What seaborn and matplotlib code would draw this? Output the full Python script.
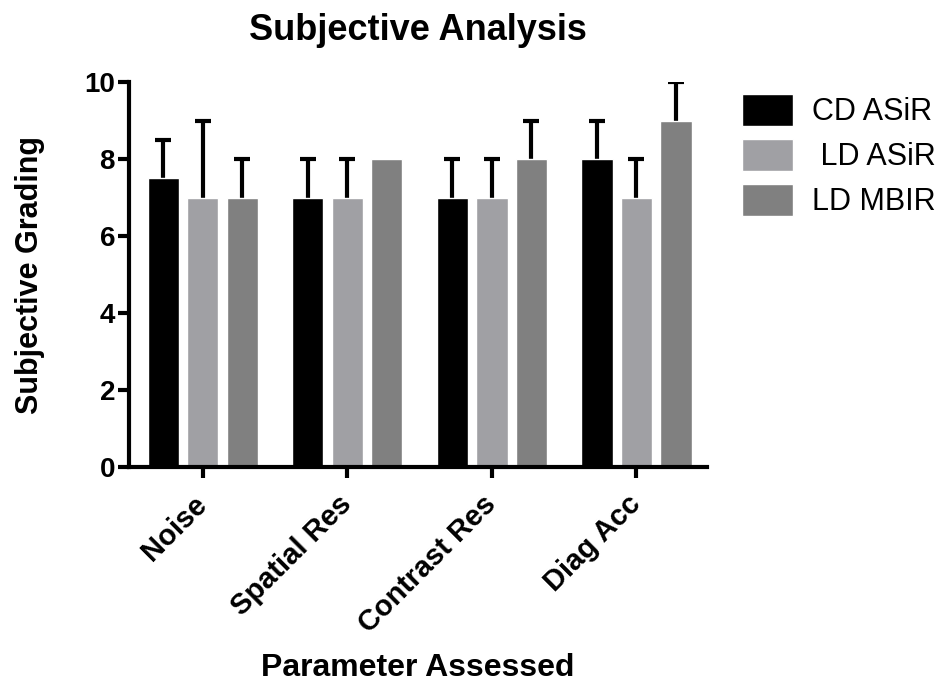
import numpy as np
import pandas as pd
import matplotlib
matplotlib.use("Agg")
import matplotlib.pyplot as plt
import matplotlib.transforms as mtransforms
import seaborn as sns

params = ["Noise", "Spatial Res", "Contrast Res", "Diag Acc"]
groups = ["CD ASiR", " LD ASiR", "LD MBIR"]
cd_asir = [7.5, 7.0, 7.0, 8.0]
ld_asir = [7.0, 7.0, 7.0, 7.0]
ld_mbir = [7.0, 8.0, 8.0, 9.0]
cd_asir_err = [1.0, 1.0, 1.0, 1.0]
ld_asir_err = [2.0, 1.0, 1.0, 1.0]
ld_mbir_err = [1.0, 0.0, 1.0, 1.0]
colors = ["#000000", "#a0a0a4", "#808080"]

rows = []
for g, vals, errs in zip(groups, [cd_asir, ld_asir, ld_mbir],
                         [cd_asir_err, ld_asir_err, ld_mbir_err]):
    for p, v, e in zip(params, vals, errs):
        rows.append({"Parameter": p, "Group": g, "Value": v, "Err": e})
df = pd.DataFrame(rows)

sns.set_style("ticks")
plt.rcParams["font.family"] = ["Liberation Sans", "DejaVu Sans"]
for k in ["text.color", "axes.labelcolor", "xtick.color", "ytick.color", "axes.edgecolor"]:
    plt.rcParams[k] = "black"

fig = plt.figure(figsize=(9.45, 6.89), dpi=100)
ax = fig.add_axes([0.1365, 0.322, 0.612, 0.559])

sns.barplot(data=df, x="Parameter", y="Value", hue="Group", order=params,
            hue_order=groups, palette=colors, width=0.82, gap=0.21,
            errorbar=None, saturation=1, ax=ax, zorder=2)

# upward-only error bars with a cap on top
for g, cont in zip(groups, ax.containers):
    sub = df[df["Group"] == g].set_index("Parameter").loc[params]
    xs = np.array([b.get_x() + b.get_width() / 2 for b in cont])
    vals = sub["Value"].values
    errs = sub["Err"].values
    m = errs > 0
    _, caps, _ = ax.errorbar(xs[m], vals[m], yerr=[np.zeros(m.sum()), errs[m]],
                             fmt="none", ecolor="black", elinewidth=3, capsize=6,
                             capthick=3, zorder=1)
    caps[0].set_visible(False)

ax.set_ylim(0, 10)
ax.set_xlim(-0.51, 3.49)
ax.set_yticks([0, 2, 4, 6, 8, 10])
sns.despine(ax=ax)
for s in ["left", "bottom"]:
    ax.spines[s].set_linewidth(3)
ax.tick_params(axis="both", width=3, length=8, labelsize=20, pad=2)
ax.tick_params(axis="x", pad=12)
for lab in ax.get_yticklabels():
    lab.set_fontweight("bold")
ax.set_xticks(range(len(params)))
ax.set_xticklabels(params, rotation=45, ha="right", rotation_mode="anchor",
                   fontsize=21, fontweight="bold")
shift = mtransforms.ScaledTranslation(-0.10, 0.05, fig.dpi_scale_trans)
for lab in ax.get_xticklabels():
    lab.set_transform(lab.get_transform() + shift)

ax.set_xlabel("Parameter Assessed", fontsize=23, fontweight="bold", labelpad=11)
ax.set_ylabel("Subjective Grading", fontsize=22, fontweight="bold", labelpad=28)
ax.set_title("Subjective Analysis", fontsize=26, fontweight="bold", pad=30)

ax.legend(loc="upper left", bbox_to_anchor=(1.0606, 0.97), frameon=False,
          fontsize=22, handlelength=1.67, handleheight=1.25, labelspacing=0.38,
          handletextpad=0.62, borderpad=0, borderaxespad=0)

fig.savefig("out.png", dpi=100)
